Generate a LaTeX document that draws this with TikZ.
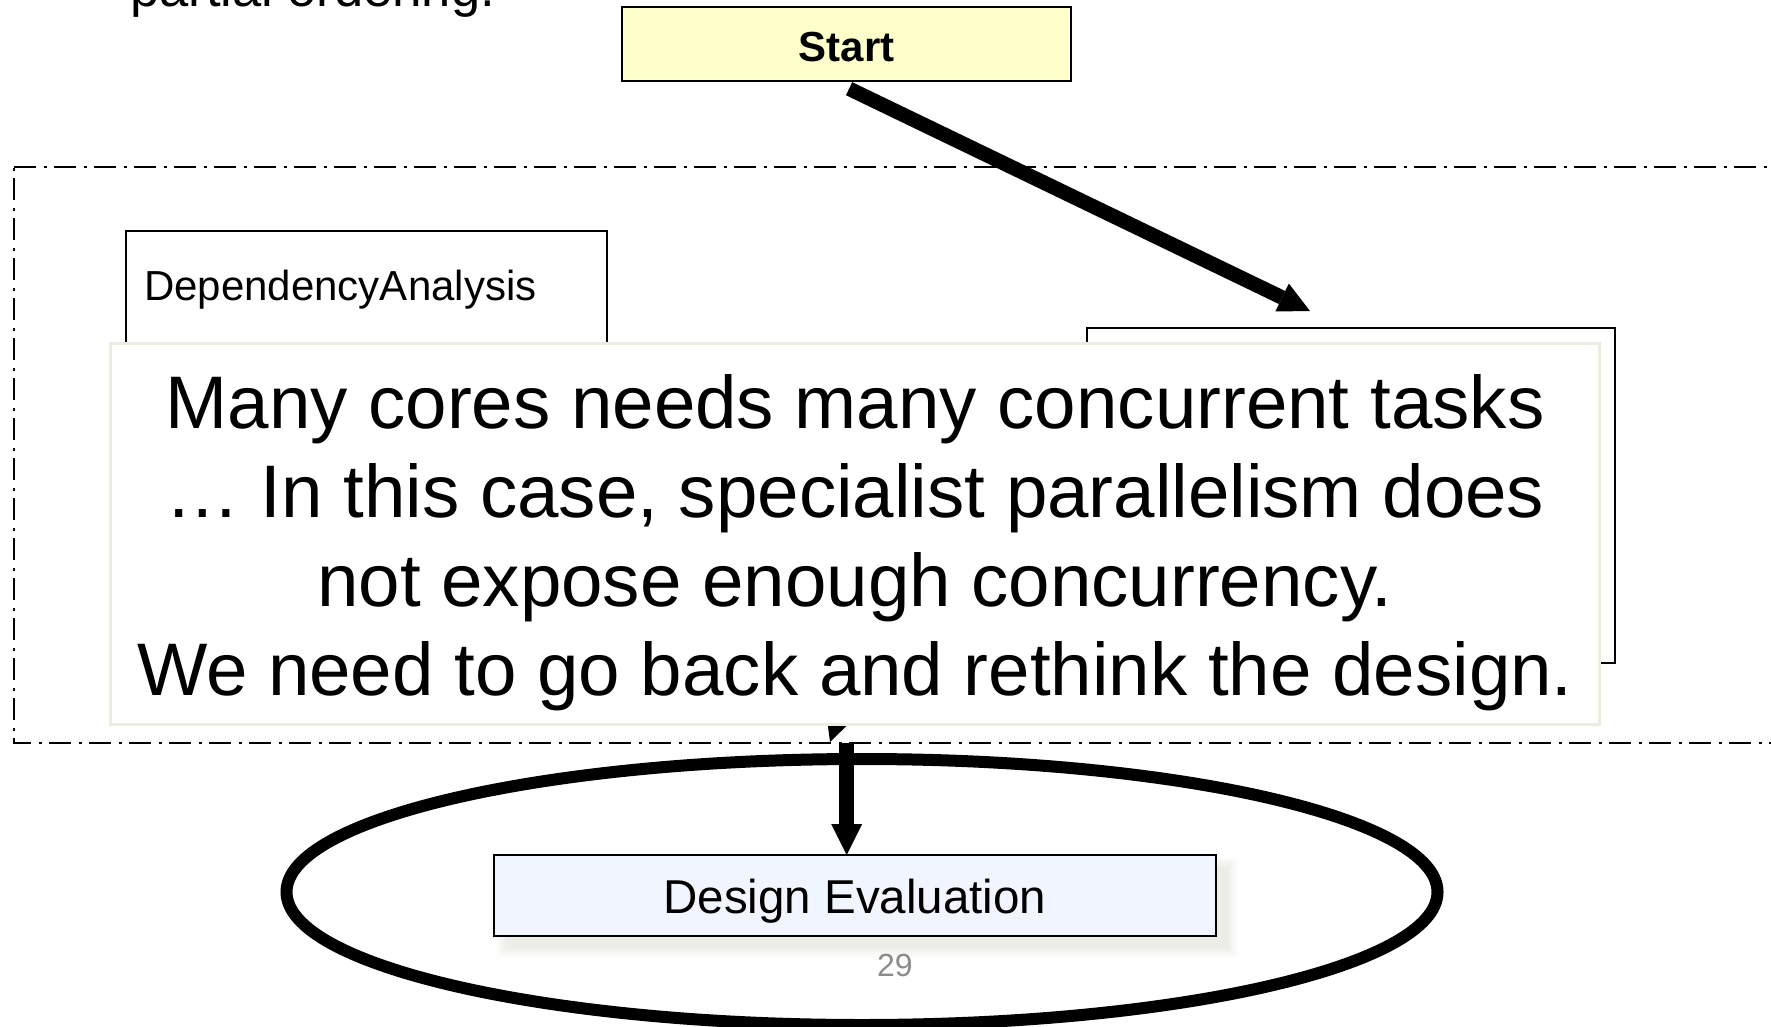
\documentclass[tikz,border=0pt]{standalone}
\usepackage{fontspec}
\setmainfont{Liberation Sans}
\usetikzlibrary{arrows.meta}
\definecolor{startfill}{RGB}{255,255,204}
\definecolor{evalfill}{RGB}{240,245,255}
\definecolor{noteedge}{RGB}{236,236,224}
\definecolor{pagegray}{RGB}{140,140,140}
\definecolor{shadowtone}{RGB}{110,110,80}
\begin{document}
\begin{tikzpicture}[x=1pt, y=-1pt,
  box/.style={draw=black, line width=2pt, inner sep=0pt, outer sep=0pt},
  flowarrow/.style={line width=14.5pt, -{Triangle[length=31pt, width=31pt, line width=0pt]}},
  grouprule/.style={line width=2.2pt, dash pattern=on 22pt off 8pt on 3pt off 7pt},
  notetext/.style={anchor=base, inner sep=0pt, font=\fontsize{74.5}{89}\selectfont},
]
\useasboundingbox (0,0) rectangle (1771,1027);
\clip (0,0) rectangle (1771,1027);
\fill[white] (0,0) rectangle (1771,1027);

% heading line running off the top edge
\node[anchor=base west, inner sep=0pt, font=\fontsize{52.5}{63}\selectfont] (ordering) at (130,6.5) {partial ordering.};

% dash-dotted group outline
\draw[grouprule] (14,167) -- (1790,167);
\draw[grouprule, dash phase=29pt] (14,167) -- (14,743) -- (1790,743);

% task boxes inside the group
\node[box, anchor=north west, minimum width=481pt, minimum height=380pt] (dep) at (126,231) {};
\node[anchor=base west, inner sep=0pt, font=\fontsize{42}{50}\selectfont] (deplabel) at (144,300) {DependencyAnalysis};
\node[box, anchor=north west, minimum width=528.5pt, minimum height=335.5pt] (decomp) at (1086.5,327.5) {};

% start box
\node[box, fill=startfill, anchor=north west, minimum width=449pt, minimum height=74pt,
      font=\bfseries\fontsize{42}{50}\selectfont, text height=35.4pt, text depth=0pt] (start) at (622,7) {Start};

% arrows inside the flow
\coordinate (tipA) at (1310,311);
\draw[flowarrow] ([xshift=2.6pt, yshift=-7.7pt]start.south) -- (tipA);
\coordinate (hidsrc) at (912,505);
\coordinate (grpin) at (830,742);
\draw[flowarrow] (hidsrc) -- (grpin);

% remark box laid over the flow
\node[draw=noteedge, line width=3pt, fill=white, anchor=north west, minimum width=1489pt,
      minimum height=381pt, inner sep=0pt, outer sep=0pt] (note) at (110,343) {};
\node[notetext] (line1) at (855,428) {Many cores needs many concurrent tasks};
\node[notetext] (line2) at (855,517) {… In this case, specialist parallelism does};
\node[notetext] (line3) at (855,606) {not expose enough concurrency.};
\node[notetext] (line4) at (855,695) {We need to go back and rethink the design.};

% soft shadow of the evaluation box, offset to the lower right
\foreach \s in {0,2,...,10} {
  \fill[shadowtone, opacity=0.02] (505.8-\s, 867-\s) rectangle (1227.8+\s, 947.7+\s);
}
\node[box, fill=evalfill, anchor=north west, minimum width=722pt, minimum height=80.7pt,
      font=\fontsize{47.5}{57}\selectfont, text height=36pt, text depth=0pt] (eval) at (493.8,855) {Design Evaluation};

% arrow from the group to the evaluation step
\coordinate (grpout) at (846.7,743);
\draw[flowarrow] (grpout) -- (grpout |- eval.north);

% highlight ring
\draw[line width=12pt] (862,892) ellipse [x radius=575.5, y radius=133];

% page number
\node[anchor=base, inner sep=0pt, text=pagegray, font=\fontsize{32}{38}\selectfont] (pageno) at (894.8,976.7) {29};
\end{tikzpicture}
\end{document}
